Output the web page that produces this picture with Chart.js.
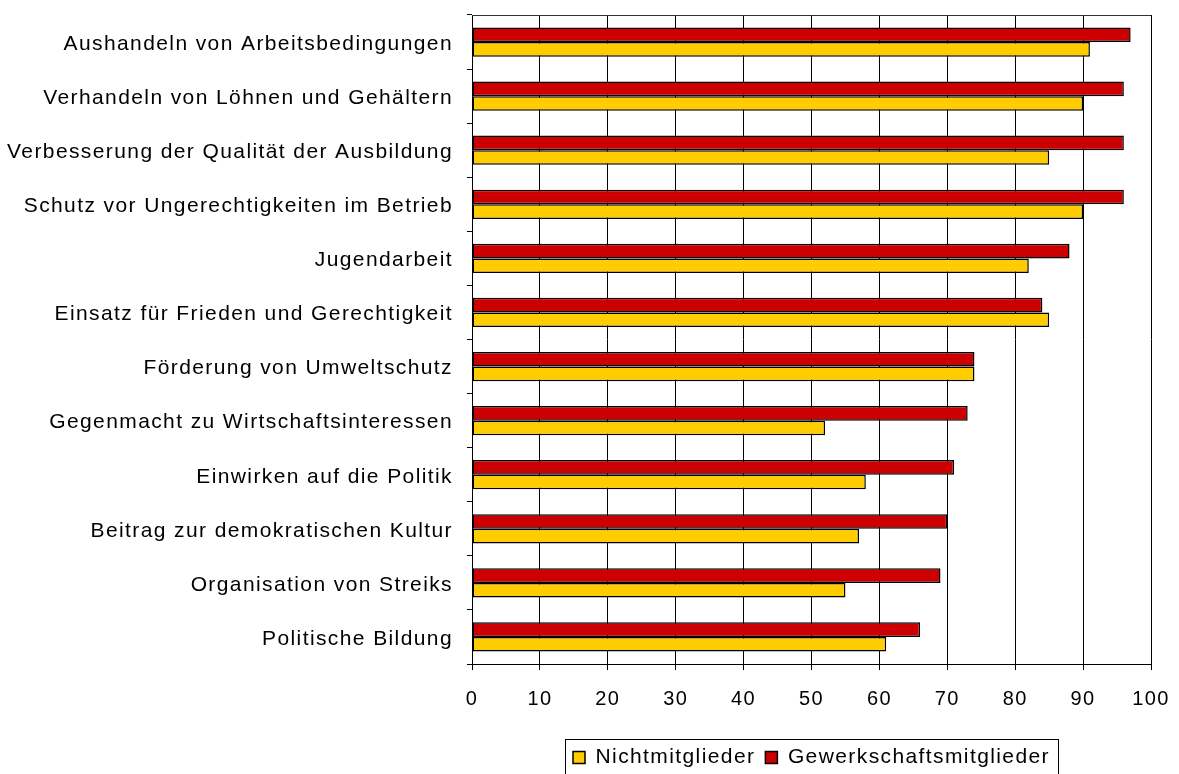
<!DOCTYPE html>
<html>
<head>
<meta charset="utf-8">
<script src="https://cdn.jsdelivr.net/npm/chart.js@4.4.1/dist/chart.umd.min.js"></script>
<style>
  html, body { margin: 0; padding: 0; background: #fff; }
  #wrap { width: 1179px; height: 774px; }
</style>
</head>
<body>
<div id="wrap"><canvas id="chart"></canvas></div>
<script>
// categories, top to bottom
const categories = [
    'Aushandeln von Arbeitsbedingungen',
    'Verhandeln von Löhnen und Gehältern',
    'Verbesserung der Qualität der Ausbildung',
    'Schutz vor Ungerechtigkeiten im Betrieb',
    'Jugendarbeit',
    'Einsatz für Frieden und Gerechtigkeit',
    'Förderung von Umweltschutz',
    'Gegenmacht zu Wirtschaftsinteressen',
    'Einwirken auf die Politik',
    'Beitrag zur demokratischen Kultur',
    'Organisation von Streiks',
    'Politische Bildung'
];
const gewerkschaftsmitglieder = [97, 96, 96, 96, 88, 84, 74, 73, 71, 70, 69, 66];
const nichtmitglieder = [91, 90, 85, 90, 82, 85, 74, 52, 58, 57, 55, 61];
const xTickLabels = [0, 10, 20, 30, 40, 50, 60, 70, 80, 90, 100];

const FONT = 'Liberation Sans';
const SPACING = '1.4px';

// letter spacing + top border + legend frame
const extras = {
    id: 'extras',
    beforeUpdate(c) { c.ctx.letterSpacing = SPACING; },
    afterLayout(c) {
        // push the legend row down a little
        c.legend.top += 4;
        c.legend.bottom += 4;
    },
    beforeDraw(c) { c.ctx.letterSpacing = SPACING; },
    afterDraw(c) {
        const ctx = c.ctx, a = c.chartArea;
        ctx.save();
        ctx.lineWidth = 1;
        ctx.strokeStyle = '#333';
        ctx.beginPath();
        ctx.moveTo(a.left, Math.round(a.top) + 0.5);
        ctx.lineTo(a.right, Math.round(a.top) + 0.5);
        ctx.stroke();
        const hb = c.legend.legendHitBoxes;
        if (hb && hb.length) {
            const last = hb[hb.length - 1];
            const l = Math.round(hb[0].left - 8) + 0.5;
            const r = Math.round(last.left + last.width + 8) + 0.5;
            const t = Math.round(hb[0].top - 8) + 0.5;
            ctx.strokeStyle = '#000';
            ctx.strokeRect(l, t, r - l, c.height);
        }
        ctx.restore();
    }
};

const chartId = document.getElementById('chart').getContext('2d');

const data = {
    labels: categories,
    datasets: [
        {
            label: 'Gewerkschaftsmitglieder',
            data: gewerkschaftsmitglieder,
            backgroundColor: '#cc0000',
            borderColor: '#000',
            borderWidth: 1.5,
            borderSkipped: false,
        },
        {
            label: 'Nichtmitglieder',
            data: nichtmitglieder,
            backgroundColor: '#ffcc00',
            borderColor: '#000',
            borderWidth: 1.5,
            borderSkipped: false,
        }
    ]
};

const myChart = new Chart(chartId, {
    type: 'bar',
    data: data,
    plugins: [extras],
    options: {
        indexAxis: 'y',
        responsive: true,
        maintainAspectRatio: false,
        animation: false,
        datasets: {
            bar: { categoryPercentage: 0.54, barPercentage: 1.0 }
        },
        layout: { padding: { top: 15, right: 28, left: 0, bottom: 0 } },
        scales: {
            x: {
                min: 0,
                max: 100,
                afterFit(scale) {
                    scale.height = 69;
                    scale.paddingLeft = 0;
                    scale.paddingRight = 0;
                },
                afterBuildTicks(scale) { scale.ticks = xTickLabels.map(v => ({ value: v })); },
                grid: { color: '#000', lineWidth: 1, tickLength: 6, drawOnChartArea: true },
                border: { color: '#000', width: 1 },
                ticks: {
                    color: '#000',
                    padding: 17,
                    maxRotation: 0,
                    font: { family: FONT, size: 20 }
                }
            },
            y: {
                afterFit(scale) {
                    scale.width = 472;
                    scale.paddingTop = 0;
                    scale.paddingBottom = 0;
                },
                grid: { color: '#000', lineWidth: 1, tickLength: 5, drawOnChartArea: false, offset: true },
                border: { color: '#000', width: 1 },
                ticks: {
                    color: '#000',
                    padding: 14,
                    labelOffset: 2,
                    autoSkip: false,
                    font: { family: FONT, size: 21 }
                }
            }
        },
        plugins: {
            legend: {
                position: 'bottom',
                fullSize: false,
                reverse: true,
                labels: {
                    color: '#000',
                    boxWidth: 12,
                    boxHeight: 12,
                    padding: 10,
                    font: { family: FONT, size: 21 }
                }
            },
            tooltip: { enabled: false },
            title: { display: false }
        }
    }
});
</script>
</body>
</html>
